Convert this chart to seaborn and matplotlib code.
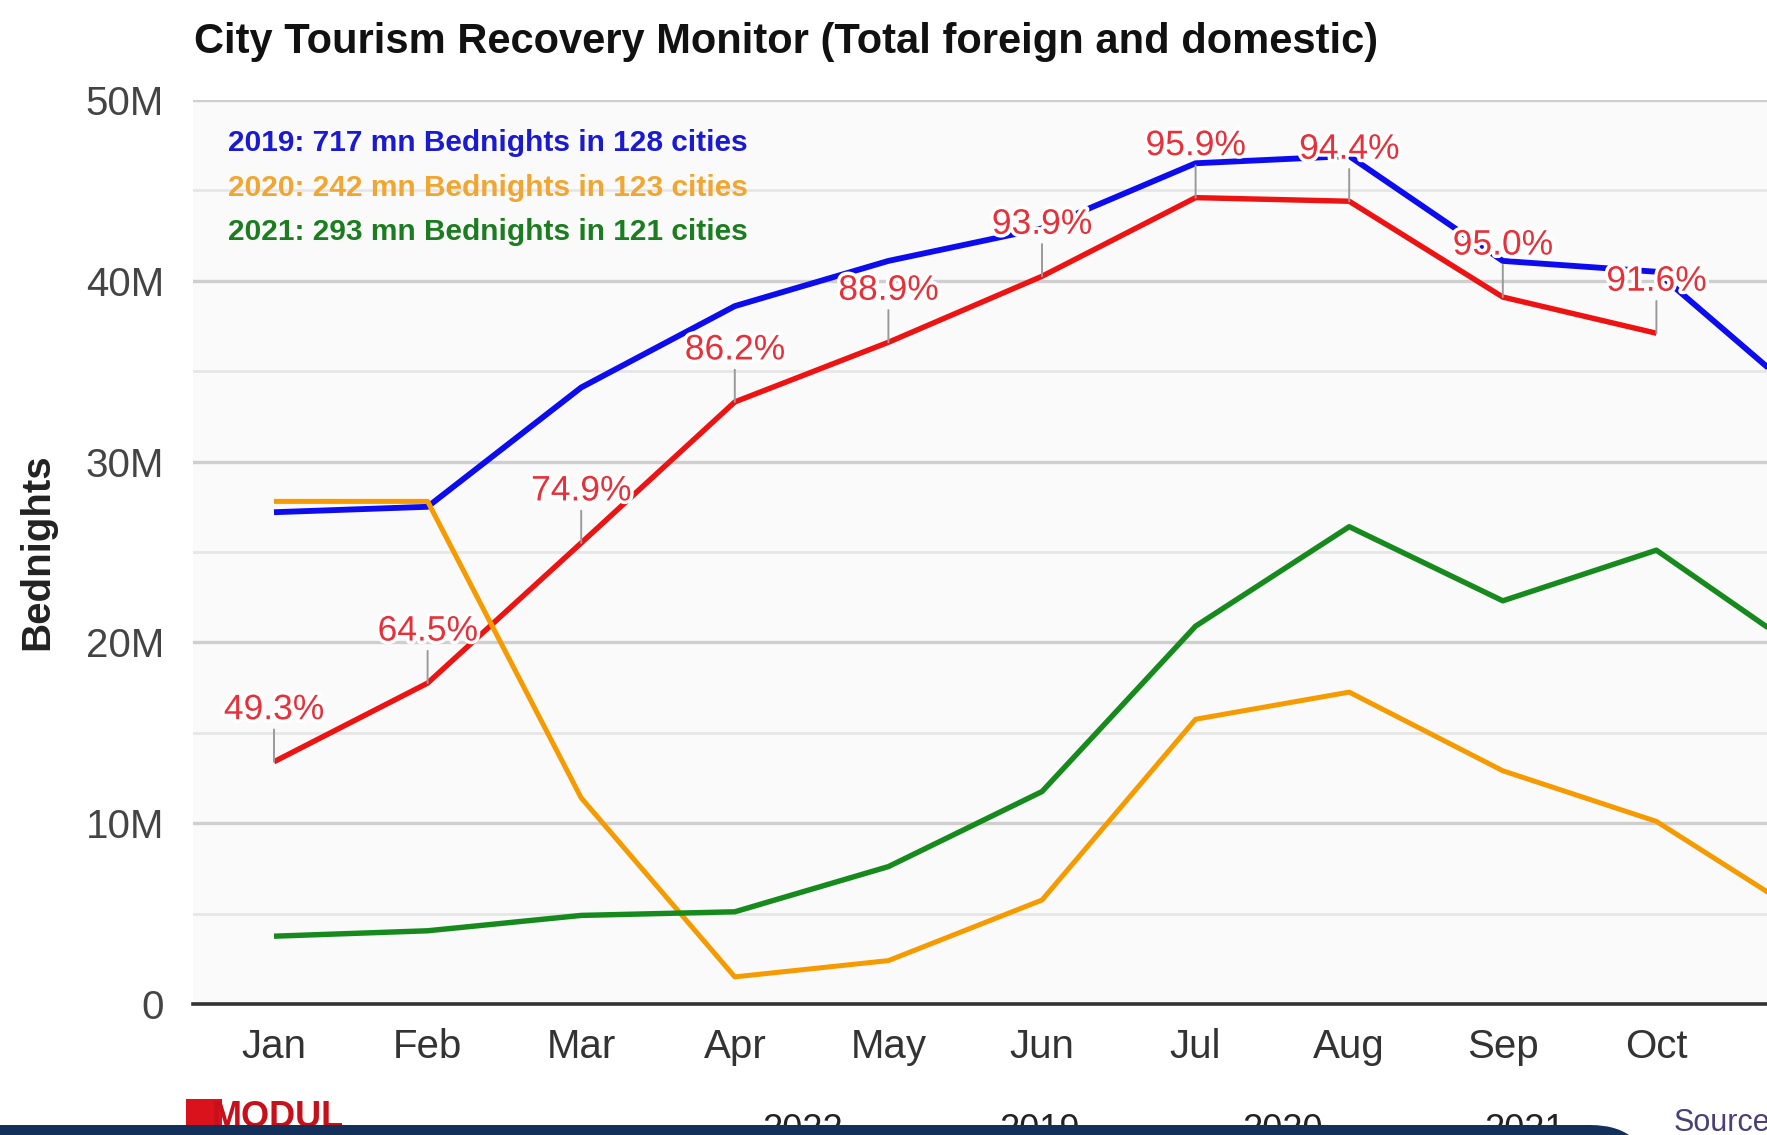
import numpy as np
import pandas as pd
import matplotlib
matplotlib.use("Agg")
import matplotlib.pyplot as plt
import seaborn as sns
from matplotlib import patheffects as pe
from matplotlib.patches import FancyBboxPatch, Rectangle
from matplotlib.ticker import MultipleLocator, FuncFormatter, FixedLocator, FixedFormatter

# ---------------- data (millions of bednights) ----------------
months = ["Jan", "Feb", "Mar", "Apr", "May", "Jun", "Jul", "Aug", "Sep", "Oct", "Nov", "Dec"]
bed_2019 = [27.2, 27.5, 34.1, 38.6, 41.1, 42.9, 46.5, 46.9, 41.1, 40.5, 33.2]
bed_2020 = [27.8, 27.8, 11.4, 1.5, 2.4, 5.75, 15.75, 17.25, 12.9, 10.1, 4.7]
bed_2021 = [3.75, 4.05, 4.9, 5.1, 7.6, 11.75, 20.9, 26.4, 22.3, 25.1, 19.2]
bed_2022 = [13.4, 17.75, 25.5, 33.3, 36.6, 40.25, 44.6, 44.4, 39.1, 37.1]
pct_2022 = [49.3, 64.5, 74.9, 86.2, 88.9, 93.9, 95.9, 94.4, 95.0, 91.6]

years = ["2022", "2019", "2020", "2021"]
series = {"2019": bed_2019, "2020": bed_2020, "2021": bed_2021, "2022": bed_2022}
line_colors = {"2019": "#0c0cee", "2020": "#f59b00", "2021": "#178a1e", "2022": "#ee1313"}
line_widths = {"2019": 4.2, "2020": 3.6, "2021": 3.9, "2022": 3.9}

header_lines = ["2019: 717 mn Bednights in 128 cities",
                "2020: 242 mn Bednights in 123 cities",
                "2021: 293 mn Bednights in 121 cities"]
header_colors = ["#1a1ad0", "#f0a630", "#1b7d1f"]

title = "City Tourism Recovery Monitor (Total foreign and domestic)"
bottom_legend = ["2022", "2019", "2020", "2021"]

rows = []
for y in years:
    for i, v in enumerate(series[y]):
        rows.append({"year": y, "idx": i, "value": v * 1e6})
df = pd.DataFrame(rows)

# ---------------- figure ----------------
W, H = 1767, 1135
sns.set_theme(style="white")
plt.rcParams["font.family"] = ["Liberation Sans", "DejaVu Sans"]

fig = plt.figure(figsize=(W / 100, H / 100), dpi=100)
fig.patch.set_facecolor("white")

def fx(px):
    return px / W

def fy(py):
    return 1 - py / H

ax_left, ax_top, ax_bottom = 193, 100, 1004
step = 153.6          # pixel distance between months
first = 274           # pixel position of Jan
ax = fig.add_axes([fx(ax_left), fy(ax_bottom), fx(W - ax_left), (ax_bottom - ax_top) / H])
ax.set_facecolor("#fafafa")

for y in years:
    sub = df[df["year"] == y]
    sns.lineplot(data=sub, x="idx", y="value", color=line_colors[y],
                 linewidth=line_widths[y], estimator=None, sort=False,
                 legend=False, ax=ax, zorder=3)

for ln in ax.lines:
    ln.set_solid_joinstyle("round")
    ln.set_solid_capstyle("butt")

ax.xaxis.set_major_locator(FixedLocator(list(range(len(months)))))
ax.xaxis.set_major_formatter(FixedFormatter(months))
ax.yaxis.set_major_locator(MultipleLocator(10e6))
ax.yaxis.set_minor_locator(MultipleLocator(5e6))
ax.yaxis.set_major_formatter(FuncFormatter(lambda v, p: "0" if v == 0 else f"{v/1e6:.0f}M"))

x0 = -(first - ax_left) / step
x1 = x0 + (W - ax_left) / step
ax.set_xlim(x0, x1)
ax.set_ylim(0, 50e6)

ax.grid(which="major", axis="y", color="#cfcfcf", linewidth=2.4)
ax.grid(which="minor", axis="y", color="#e6e6e6", linewidth=2.0)
ax.grid(which="major", axis="x", visible=False)
ax.set_axisbelow(True)

for s in ["left", "right", "top"]:
    ax.spines[s].set_visible(False)
ax.spines["bottom"].set_color("#333333")
ax.spines["bottom"].set_linewidth(2.6)

ax.tick_params(axis="y", which="both", length=0, pad=21, labelsize=29, labelcolor="#444444")
ax.tick_params(axis="x", which="both", length=0, pad=17, labelsize=29, labelcolor="#333333")
ax.set_xlabel("")
ax.set_ylabel("")

# percentage annotations on 2022 line
for i, (v, p) in enumerate(zip(bed_2022, pct_2022)):
    ax.annotate(f"{p:.1f}%", xy=(i, v * 1e6), xytext=(0, 52), textcoords="offset pixels",
                ha="center", va="center", fontsize=25.5, color="#e8303a", zorder=6,
                path_effects=[pe.withStroke(linewidth=5, foreground="white")],
                arrowprops=dict(arrowstyle="-", color="#9a9a9a", lw=1.4,
                                shrinkA=0, shrinkB=0, relpos=(0.5, 0)))

# title, axis label, header notes
fig.text(fx(194), fy(42), title, ha="left", va="center", fontsize=30,
         fontweight="bold", color="#111111")
fig.text(fx(37), fy(552), "Bednights", rotation=90, ha="center", va="center",
         fontsize=29, fontweight="bold", color="#222222")
for k, (t, c) in enumerate(zip(header_lines, header_colors)):
    fig.text(fx(228), fy(143 + 44.5 * k), t, ha="left", va="center", fontsize=21.5,
             fontweight="bold", color=c, zorder=7)

# bottom page elements (partially hidden behind the navy band)
logo = Rectangle((fx(186), fy(1135)), fx(36), (1135 - 1099) / H, transform=fig.transFigure,
                 facecolor="#d9121c", edgecolor="none", zorder=1)
fig.patches.append(logo)
fig.text(fx(212), fy(1100), "MODUL", ha="left", va="top", fontsize=26, fontweight="bold",
         color="#c8101a", zorder=1)
for lbl, xp in zip(bottom_legend, [762, 999, 1242, 1484]):
    fig.text(fx(xp), fy(1113), lbl, ha="left", va="top", fontsize=26, color="#222222", zorder=1)
fig.text(fx(1674), fy(1108), "Source", ha="left", va="top", fontsize=22, color="#4b3f78", zorder=1)

band = FancyBboxPatch((-80, -120), 1650 + 80, 120 + (1135 - 1125),
                      boxstyle="round,pad=0,rounding_size=60",
                      facecolor="#13305a", edgecolor="none", zorder=10)
band.set_transform(matplotlib.transforms.IdentityTransform())
fig.patches.append(band)

fig.savefig("out.png", dpi=100, facecolor="white")
